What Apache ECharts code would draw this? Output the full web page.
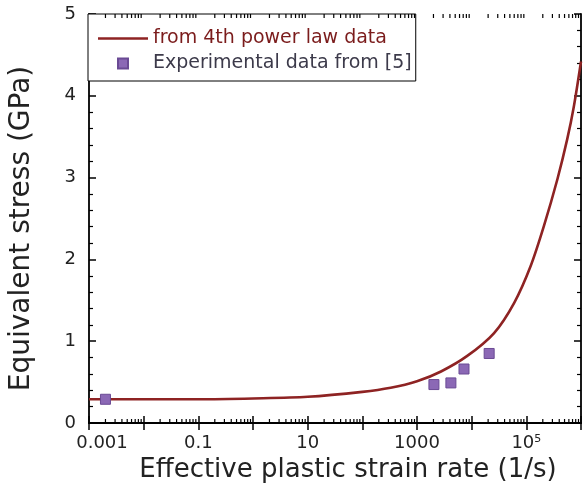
<!DOCTYPE html>
<html>
<head>
<meta charset="utf-8">
<script src="https://cdn.jsdelivr.net/npm/echarts@6/dist/echarts.min.js"></script>
<style>
html,body{margin:0;padding:0;background:#fff;}
#chart{width:584px;height:493px;}
</style>
</head>
<body>
<div id="chart"></div>
<script>
// Curve: "from 4th power law data"
const curveRate   = [0.001, 0.01, 0.1, 1, 10, 100, 330, 1000, 2750, 8300, 25700, 60000, 120000, 210000, 370000, 560000, 740000, 1000000];
const curveStress = [0.29, 0.29, 0.29, 0.30, 0.32, 0.38, 0.43, 0.51, 0.63, 0.82, 1.10, 1.47, 1.92, 2.41, 2.98, 3.47, 3.87, 4.42];
// Experimental data from [5]
const expRate   = [0.002, 2040, 4170, 7240, 20900];
const expStress = [0.29, 0.47, 0.49, 0.66, 0.85];
// Axis labels
const xLabelMap = {'-3': '0.001', '-1': '0.1', '1': '10', '3': '1000', '5': '10{sup|5}'};
const yTicks = [0, 1, 2, 3, 4, 5];
const seriesNames = ['from 4th power law data', 'Experimental data from [5]'];

const FONT = 'DejaVu Sans';
const xMin = 0.001, xMax = 1e6;
// log minor ticks (2..9 of each decade)
const minorTicks = [];
for (let e = -3; e < 6; e++) for (let m = 2; m <= 9; m++) minorTicks.push([m * Math.pow(10, e), 0]);

const chart = echarts.init(document.getElementById('chart'));
const axisLineStyle = {color: '#000', width: 1.8};
chart.setOption({
  animation: false,
  backgroundColor: '#fff',
  grid: {left: 88, right: 3, top: 14, bottom: 70},
  legend: {
    orient: 'vertical', left: 88, top: 14,
    padding: [15, 4, 8, 10], itemGap: 6,
    itemWidth: 50, itemHeight: 10,
    borderColor: '#000', borderWidth: 1, backgroundColor: '#fff',
    textStyle: {fontFamily: FONT, fontSize: 19},
    data: [
      {name: seriesNames[0], icon: 'path://M0 0H50V2.6H0Z', itemStyle: {color: '#8e2323'}, textStyle: {color: '#7b1c1c'}},
      {name: seriesNames[1], icon: 'path://M0 0H10V10H0Z', itemStyle: {color: '#8b68b5'}, textStyle: {color: '#3c3a4a'}}
    ]
  },
  xAxis: [{
    type: 'log', logBase: 10, min: xMin, max: xMax,
    name: 'Effective plastic strain rate (1/s)', nameLocation: 'middle', nameGap: 30,
    nameTextStyle: {fontFamily: FONT, fontSize: 26, color: '#222', padding: [0, 0, 0, 26]},
    axisLine: {lineStyle: axisLineStyle},
    axisTick: {inside: true, length: 7, lineStyle: {color: '#000', width: 1.5}},
    splitLine: {show: false},
    axisLabel: {
      margin: 11, fontFamily: FONT, fontSize: 18, color: '#222',
      formatter: function (v) {
        const e = Math.round(Math.log10(v));
        const s = xLabelMap[String(e)];
        if (!s) return '';
        return e === -3 ? '{first|' + s + '}' : s;
      },
      rich: {
        sup: {fontFamily: FONT, fontSize: 11, verticalAlign: 'top', padding: [0, 0, 8, 0], color: '#222'},
        first: {fontFamily: FONT, fontSize: 18, color: '#222', padding: [0, 0, 0, 26]}
      }
    }
  }, {
    type: 'log', logBase: 10, min: xMin, max: xMax, position: 'top',
    axisLine: {lineStyle: axisLineStyle},
    axisTick: {inside: true, length: 7, lineStyle: {color: '#000', width: 1.5}},
    axisLabel: {show: false}, splitLine: {show: false}
  }],
  yAxis: [{
    type: 'value', min: 0, max: 5, interval: 1,
    name: 'Equivalent stress (GPa)', nameLocation: 'middle', nameGap: 53,
    nameTextStyle: {fontFamily: FONT, fontSize: 28, color: '#222', padding: [0, 20, 0, 0]},
    axisLine: {show: true, lineStyle: axisLineStyle},
    axisTick: {inside: true, length: 7, lineStyle: {color: '#000', width: 1.5}},
    minorTick: {show: true, splitNumber: 5, length: 4, lineStyle: {color: '#000', width: 1.2}},
    splitLine: {show: false},
    axisLabel: {margin: 13, fontFamily: FONT, fontSize: 18, color: '#222',
      formatter: function (v) { return yTicks.indexOf(v) >= 0 ? String(v) : ''; }}
  }, {
    type: 'value', min: 0, max: 5, interval: 1, position: 'right',
    axisLine: {show: true, lineStyle: axisLineStyle},
    axisTick: {inside: true, length: 7, lineStyle: {color: '#000', width: 1.5}},
    minorTick: {show: true, splitNumber: 5, length: 4, lineStyle: {color: '#000', width: 1.2}},
    splitLine: {show: false}, axisLabel: {show: false}
  }],
  series: [{
    name: seriesNames[0], type: 'line', smooth: 0.3, showSymbol: false, symbol: 'none',
    data: curveRate.map((r, i) => [r, curveStress[i]]),
    lineStyle: {color: '#8e2323', width: 2.6}, itemStyle: {color: '#8e2323'}, z: 3
  }, {
    name: seriesNames[1], type: 'scatter', symbol: 'rect', symbolSize: 10,
    data: expRate.map((r, i) => [r, expStress[i]]),
    itemStyle: {color: '#8b68b5', borderColor: '#6a4a94', borderWidth: 1, opacity: 1}, z: 4
  }, {
    name: 'minorTicks', type: 'custom', silent: true, clip: false, z: 5,
    data: minorTicks,
    renderItem: function (params, api) {
      const x = api.value(0);
      const pb = api.coord([x, 0]);
      const pt = api.coord([x, 5]);
      const st = {stroke: '#000', lineWidth: 1.2};
      return {type: 'group', children: [
        {type: 'line', shape: {x1: pb[0], y1: pb[1], x2: pb[0], y2: pb[1] - 4}, style: st},
        {type: 'line', shape: {x1: pt[0], y1: pt[1], x2: pt[0], y2: pt[1] + 4}, style: st}
      ]};
    }
  }]
});
</script>
</body>
</html>
